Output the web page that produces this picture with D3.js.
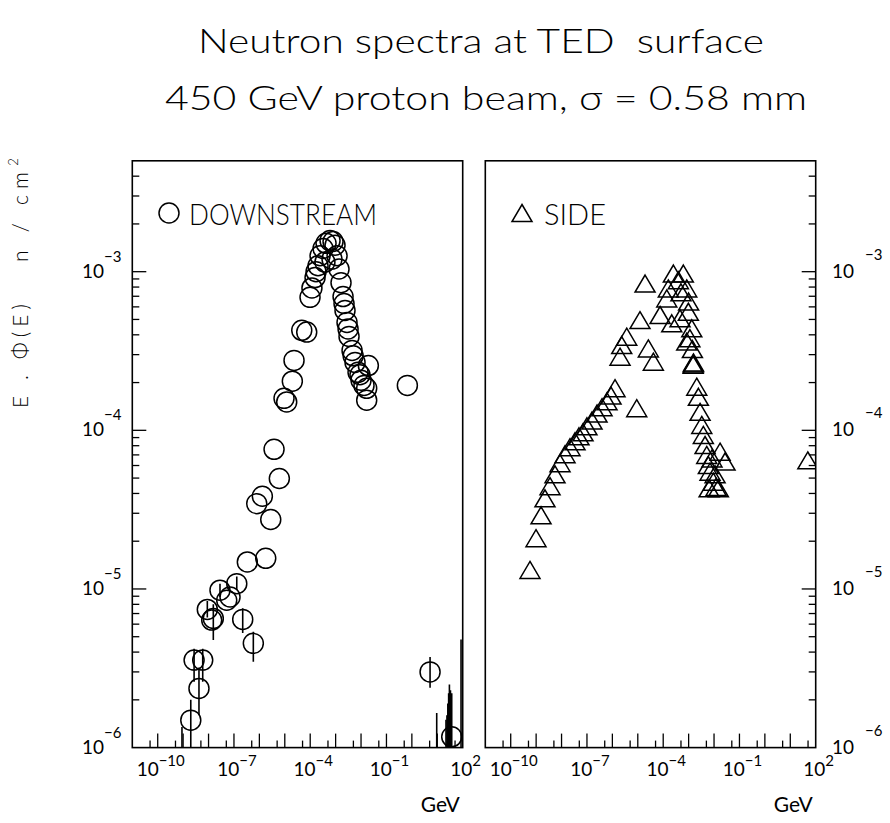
<!DOCTYPE html>
<html>
<head>
<meta charset="utf-8">
<script src="https://cdn.jsdelivr.net/npm/d3@7"></script>
<style>
  html, body { margin: 0; padding: 0; background: #fff; }
  text { font-family: Lato, "Open Sans", "DejaVu Sans", sans-serif; font-weight: 400; fill: #000; white-space: pre; }
  text.light { font-weight: 300; }
</style>
</head>
<body>
<svg id="chart" width="890" height="823"></svg>
<script>
// ---------------- DATA ----------------
const titleLines = ["Neutron spectra at TED  surface", "450 GeV proton beam, \u03c3 = 0.58 mm"];
const yLabelParts = ["E . \u03a6(E)", "n / cm"];
const xUnit = "GeV";
const legendNames = ["DOWNSTREAM", "SIDE"];

const xTickExps = [-10, -7, -4, -1, 2];
const yTickExps = [-6, -5, -4, -3];

// DOWNSTREAM (circles): energy [GeV], E*phi(E) [n/cm2]
const dsEnergy = [2.0e-9, 4.2e-9, 2.7e-9, 5.9e-9, 8.95e-9, 1.54e-8, 1.33e-8, 2.82e-8, 7.0e-8, 5.19e-8,
  1.29e-7, 2.21e-7, 5.78e-7, 3.36e-7, 1.78e-6, 7.87e-7, 1.31e-6, 2.80e-6, 6.10e-6, 3.78e-6,
  9.33e-6, 1.19e-5, 1.98e-5, 2.31e-5, 4.65e-5, 7.29e-5, 9.84e-5, 1.17e-4, 1.55e-4, 1.70e-4,
  2.03e-4, 2.44e-4, 3.20e-4, 3.80e-4, 4.20e-4, 6.03e-4, 7.20e-4, 7.91e-4, 9.48e-4, 1.14e-3,
  1.36e-3, 1.63e-3, 1.96e-3, 2.14e-3, 2.34e-3, 2.81e-3, 3.09e-3, 3.37e-3, 4.43e-3, 4.90e-3,
  5.81e-3, 7.62e-3, 9.10e-3, 1.0e-2, 1.31e-2, 1.67e-2, 1.67e-2, 1.94e-2, 0.665, 5.2, 37];
const dsFlux = [1.49e-6, 2.36e-6, 3.56e-6, 3.56e-6, 7.43e-6, 6.52e-6, 6.37e-6, 9.82e-6, 8.91e-6, 8.49e-6,
  1.08e-5, 6.43e-6, 4.54e-6, 1.48e-5, 1.56e-5, 3.45e-5, 3.84e-5, 2.74e-5, 4.97e-5, 7.59e-5,
  1.59e-4, 1.51e-4, 2.04e-4, 2.76e-4, 4.27e-4, 4.16e-4, 6.89e-4, 7.90e-4, 9.18e-4, 1.00e-3,
  1.09e-3, 1.26e-3, 1.40e-3, 1.15e-3, 1.51e-3, 1.57e-3, 1.20e-3, 1.55e-3, 1.47e-3, 1.26e-3,
  1.04e-3, 8.53e-4, 6.97e-4, 6.30e-4, 5.70e-4, 4.79e-4, 4.36e-4, 3.91e-4, 3.19e-4, 2.95e-4,
  2.68e-4, 2.32e-4, 2.24e-4, 2.07e-4, 1.92e-4, 1.84e-4, 1.55e-4, 2.56e-4, 1.92e-4, 3.0e-6, 1.17e-6];

// DOWNSTREAM error bars (some belong to points below the plotted range)
const dsErrEnergy = [2.0e-9, 4.2e-9, 2.7e-9, 5.9e-9, 8.95e-9, 1.54e-8, 2.21e-7, 5.78e-7, 2.82e-8, 1.29e-7,
  5.2, 37, 9e-10, 9.5, 22, 24, 26, 28, 30, 33, 86];
const dsErrLow = [5e-7, 1.6e-6, 2.6e-6, 2.6e-6, 6.6e-6, 4.76e-6, 5.27e-6, 3.48e-6, 8.9e-6, 9.8e-6,
  2.38e-6, 5e-7, 2e-7, 2e-7, 2e-7, 2e-7, 2e-7, 2e-7, 2e-7, 2e-7, 2e-7];
const dsErrHigh = [2.0e-6, 3.2e-6, 4.2e-6, 4.2e-6, 8.4e-6, 8.0e-6, 7.57e-6, 5.37e-6, 1.08e-5, 1.2e-5,
  3.72e-6, 2.2e-6, 1.35e-6, 1.65e-6, 1.5e-6, 1.6e-6, 1.9e-6, 2.2e-6, 2.5e-6, 2.3e-6, 4.8e-6];

// SIDE (triangles)
const sideEnergy = [5.74e-10, 9.89e-10, 1.56e-9, 2.23e-9, 3.52e-9, 5.53e-9, 8.71e-9, 1.37e-8, 2.15e-8, 3.39e-8,
  4.86e-8, 7.0e-8, 1.0e-7, 1.58e-7, 2.49e-7, 3.92e-7, 6.15e-7, 8.85e-7, 1.27e-6,
  3.67e-6, 2.33e-6, 2.0e-6, 1.22e-5, 1.93e-5, 2.60e-5, 4.09e-5, 7.52e-5, 1.38e-4, 1.59e-4,
  2.51e-4, 3.94e-4, 6.19e-4, 8.43e-4, 2.17e-4, 4.59e-4, 9.75e-4, 8.43e-4, 1.33e-3, 5.0e-4,
  1.0e-3, 1.12e-3, 1.41e-3, 1.53e-3, 1.55e-3, 1.51e-3, 2.09e-3, 2.42e-3, 2.82e-3, 3.29e-3,
  3.79e-3, 4.43e-3, 5.16e-3, 5.97e-3, 6.97e-3, 9.40e-3, 1.48e-2, 1.73e-2, 2.71e-2, 8.3e-3,
  1.1e-2, 6.4e-3, 1.2e-2, 9.08e-6, 49];
const sideFlux = [1.28e-5, 2.03e-5, 2.83e-5, 3.62e-5, 4.32e-5, 5.13e-5, 6.03e-5, 6.87e-5, 7.60e-5, 8.28e-5,
  8.91e-5, 9.44e-5, 1.03e-4, 1.12e-4, 1.24e-4, 1.36e-4, 1.48e-4, 1.61e-4, 1.79e-4,
  3.78e-4, 3.35e-4, 2.83e-4, 4.81e-4, 8.18e-4, 3.19e-4, 2.63e-4, 5.18e-4, 6.59e-4, 7.62e-4,
  9.46e-4, 8.59e-4, 9.46e-4, 7.62e-4, 4.59e-4, 4.94e-4, 5.43e-4, 3.52e-4, 4.27e-4, 7.2e-4,
  6.3e-4, 3.7e-4, 3.16e-4, 2.56e-4, 2.60e-4, 2.52e-4, 1.83e-4, 1.58e-4, 1.27e-4, 1.05e-4,
  9.08e-5, 7.85e-5, 6.79e-5, 5.87e-5, 5.33e-5, 4.61e-5, 4.19e-5, 7.13e-5, 6.17e-5, 6.46e-5,
  5.13e-5, 4.19e-5, 4.27e-5, 1.34e-4, 6.28e-5];

// ---------------- DRAW ----------------
const svg = d3.select("#chart");
const yTop = 160.8, yBot = 747.6;
const panels = [
  { x0: 132.3, x1: 462.7, side: "left", id: "L" },
  { x0: 485.3, x1: 815.7, side: "right", id: "R" }
];
const y = d3.scaleLog().domain([1e-6, 5e-3]).range([yBot, yTop]);
panels.forEach(p => { p.x = d3.scaleLog().domain([1e-11, 1e2]).range([p.x0, p.x1]); });

// titles
svg.append("text").attr("class", "light").attr("x", 481).attr("y", 53).attr("text-anchor", "middle")
  .attr("font-size", 33).attr("textLength", 566).attr("lengthAdjust", "spacingAndGlyphs").text(titleLines[0]);
svg.append("text").attr("class", "light").attr("x", 486).attr("y", 110).attr("text-anchor", "middle")
  .attr("font-size", 33).attr("textLength", 642).attr("lengthAdjust", "spacingAndGlyphs").text(titleLines[1]);

// y label (rotated), in two parts like the reference
svg.append("text").attr("class", "light").attr("transform", "translate(28,408) rotate(-90)")
  .attr("font-size", 21).attr("textLength", 104).attr("lengthAdjust", "spacing").text(yLabelParts[0]);
const yl2 = svg.append("text").attr("class", "light").attr("transform", "translate(28,262) rotate(-90)")
  .attr("font-size", 21);
yl2.append("tspan").attr("textLength", 90).attr("lengthAdjust", "spacing").text(yLabelParts[1]);
yl2.append("tspan").attr("dy", -10).attr("font-size", 13).text("2");

const defs = svg.append("defs");
const minus = "\u2212";

panels.forEach(p => {
  defs.append("clipPath").attr("id", "clip" + p.id).append("rect")
    .attr("x", p.x0).attr("y", yTop).attr("width", p.x1 - p.x0).attr("height", yBot - yTop);

  const g = svg.append("g");
  g.append("rect").attr("x", p.x0).attr("y", yTop).attr("width", p.x1 - p.x0).attr("height", yBot - yTop)
    .attr("fill", "none").attr("stroke", "#000").attr("stroke-width", 1.6);

  const xt = [];
  for (let k = -11; k <= 1; k++) { xt.push({ v: Math.pow(10, k), L: 14 }); xt.push({ v: 5 * Math.pow(10, k), L: 7 }); }
  g.selectAll(".xt").data(xt.filter(d => d.v > 1e-11 && d.v < 1e2)).enter().append("line")
    .attr("x1", d => p.x(d.v)).attr("x2", d => p.x(d.v)).attr("y1", yBot).attr("y2", d => yBot - d.L)
    .attr("stroke", "#000").attr("stroke-width", 1.3);

  xTickExps.forEach(e => {
    const t = g.append("text").attr("x", p.x(Math.pow(10, e)) + 3).attr("y", 776)
      .attr("text-anchor", "middle").attr("font-size", 19);
    t.append("tspan").text("10");
    t.append("tspan").attr("dy", -10).attr("font-size", 15).text(e < 0 ? minus + Math.abs(e) : String(e));
  });
  g.append("text").attr("x", p.x1 - 3).attr("y", 812).attr("text-anchor", "end").attr("font-size", 21).text(xUnit);

  const yt = [];
  for (let k = -6; k <= -3; k++) for (let m = 1; m <= 9; m++) {
    const v = m * Math.pow(10, k);
    if (v > 1e-6 && v < 5e-3) yt.push({ v, L: m === 1 ? 14 : 7 });
  }
  const ax = p.side === "left" ? p.x0 : p.x1, dir = p.side === "left" ? 1 : -1;
  g.selectAll(".yt").data(yt).enter().append("line")
    .attr("x1", ax).attr("x2", d => ax + dir * d.L).attr("y1", d => y(d.v)).attr("y2", d => y(d.v))
    .attr("stroke", "#000").attr("stroke-width", 1.3);

  yTickExps.forEach(e => {
    const yy = y(Math.pow(10, e));
    if (p.side === "left") {
      g.append("text").attr("x", 104).attr("y", yy + 6).attr("text-anchor", "end").attr("font-size", 19).text("10");
      g.append("text").attr("x", 104).attr("y", yy - 10).attr("font-size", 15).text(minus + Math.abs(e));
    } else {
      g.append("text").attr("x", 832).attr("y", yy + 6).attr("font-size", 19).text("10");
      g.append("text").attr("x", 865).attr("y", yy - 12).attr("font-size", 15).text(minus + Math.abs(e));
    }
  });
});

// DOWNSTREAM
const pL = panels[0];
const gL = svg.append("g").attr("clip-path", "url(#clipL)");
gL.selectAll(".err").data(dsErrEnergy.map((e, i) => ({ e, lo: dsErrLow[i], hi: dsErrHigh[i] })))
  .enter().append("line")
  .attr("x1", d => pL.x(d.e)).attr("x2", d => pL.x(d.e))
  .attr("y1", d => y(d.lo)).attr("y2", d => y(d.hi))
  .attr("stroke", "#000").attr("stroke-width", 1.6);
gL.selectAll(".ds").data(dsEnergy.map((e, i) => ({ e, f: dsFlux[i] })))
  .enter().append("circle")
  .attr("cx", d => pL.x(d.e)).attr("cy", d => y(d.f)).attr("r", 10)
  .attr("fill", "none").attr("stroke", "#000").attr("stroke-width", 1.5);

// SIDE
const pR = panels[1];
const tri = "M0,-10.5L10,6.5L-10,6.5Z";
const gR = svg.append("g").attr("clip-path", "url(#clipR)");
gR.selectAll(".sd").data(sideEnergy.map((e, i) => ({ e, f: sideFlux[i] })))
  .enter().append("path")
  .attr("d", tri)
  .attr("transform", d => `translate(${pR.x(d.e)},${y(d.f)})`)
  .attr("fill", "none").attr("stroke", "#000").attr("stroke-width", 1.5);

// legends
svg.append("circle").attr("cx", 169).attr("cy", 213).attr("r", 10)
  .attr("fill", "none").attr("stroke", "#000").attr("stroke-width", 1.5);
svg.append("text").attr("class", "light").attr("x", 189).attr("y", 225).attr("font-size", 29)
  .attr("textLength", 188).attr("lengthAdjust", "spacingAndGlyphs").text(legendNames[0]);
svg.append("path").attr("d", tri).attr("transform", "translate(522,215)")
  .attr("fill", "none").attr("stroke", "#000").attr("stroke-width", 1.5);
svg.append("text").attr("class", "light").attr("x", 544).attr("y", 225).attr("font-size", 29)
  .attr("textLength", 62).attr("lengthAdjust", "spacingAndGlyphs").text(legendNames[1]);
</script>
</body>
</html>
